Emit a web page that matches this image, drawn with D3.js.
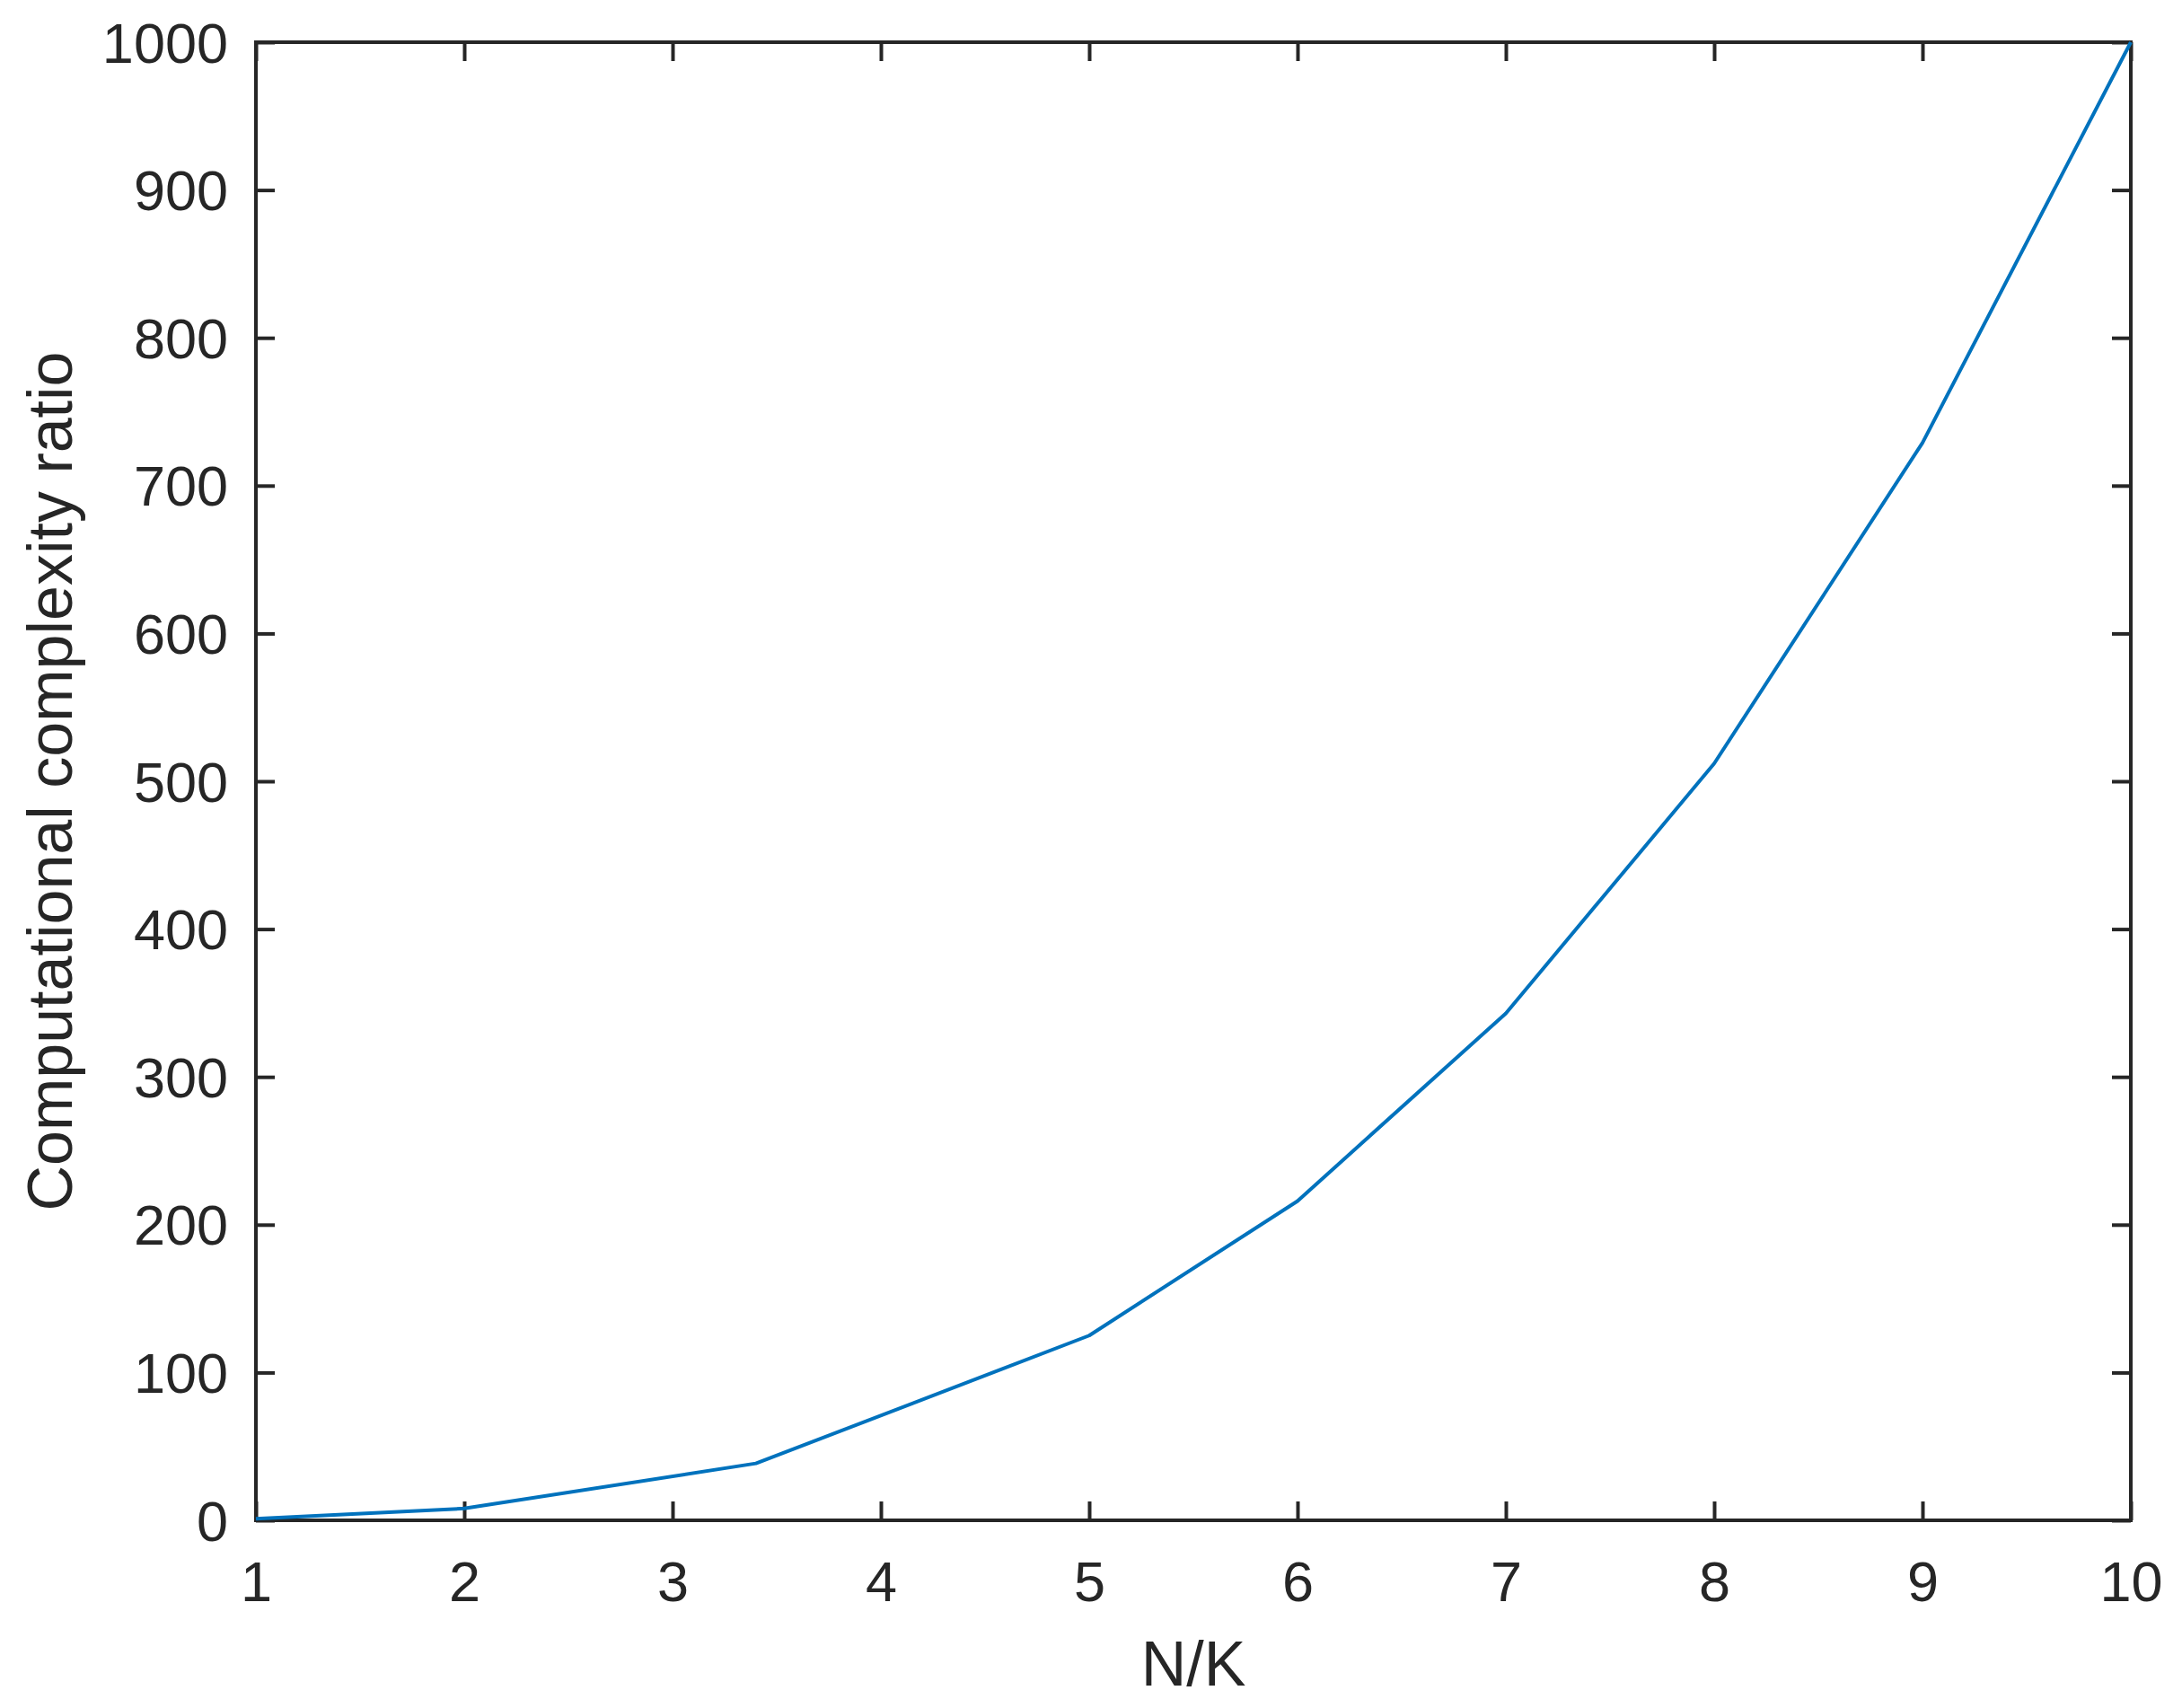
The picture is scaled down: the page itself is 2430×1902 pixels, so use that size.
<!DOCTYPE html>
<html>
<head>
<meta charset="utf-8">
<script src="https://cdn.jsdelivr.net/npm/d3@7"></script>
<style>
  html, body { margin: 0; padding: 0; background: #fff; }
  svg { display: block; font-family: "Liberation Sans", Arial, Helvetica, sans-serif; }
</style>
</head>
<body>
<svg id="chart" width="2430" height="1902"></svg>
<script>
// values (ratio grows like (N/K)^3)
const ratioX = [1, 2, 3.4, 5, 6, 7, 8, 9, 10];
const ratioY = [1, 8, 38.5, 125, 216, 343, 512, 729, 1000];
const xTicks = [1, 2, 3, 4, 5, 6, 7, 8, 9, 10];
const yTicks = [0, 100, 200, 300, 400, 500, 600, 700, 800, 900, 1000];

const ink = '#262626';
const margin = { left: 285, right: 57, top: 47, bottom: 209 };
const width = 2430, height = 1902;

const svg = d3.select('#chart');

const x = d3.scaleLinear().domain([1, 10]).range([margin.left, width - margin.right]);
const y = d3.scaleLinear().domain([0, 1000]).range([height - margin.bottom, margin.top]);

const tickLen = 21;
const fontTick = 63;
const fmt = d3.format('d');

// bottom axis with labels, top axis as mirror
const xAxis = d3.axisBottom(x).tickValues(xTicks).tickFormat(fmt).tickSizeInner(-tickLen).tickSizeOuter(0);
const gx = svg.append('g').attr('transform', `translate(0,${y(0)})`).call(xAxis);
svg.append('g').attr('transform', `translate(0,${y(1000)})`)
    .call(d3.axisTop(x).tickValues(xTicks).tickSizeInner(-tickLen).tickSizeOuter(0).tickFormat(''));

const yAxis = d3.axisLeft(y).tickValues(yTicks).tickFormat(fmt).tickSizeInner(-tickLen).tickSizeOuter(0).tickPadding(31);
const gy = svg.append('g').attr('transform', `translate(${x(1)},0)`).call(yAxis);
svg.append('g').attr('transform', `translate(${x(10)},0)`)
    .call(d3.axisRight(y).tickValues(yTicks).tickSizeInner(-tickLen).tickSizeOuter(0).tickFormat(''));

svg.selectAll('.domain').remove();
svg.selectAll('.tick line').attr('stroke', ink).attr('stroke-width', 4);
svg.selectAll('.tick text').attr('fill', ink).attr('font-size', fontTick)
    .attr('font-family', '"Liberation Sans", Arial, sans-serif');
gx.selectAll('.tick text').attr('dy', 0).attr('y', 90);
gy.selectAll('.tick text').attr('dy', '0.35em');

// box
svg.append('rect')
    .attr('x', x(1)).attr('y', y(1000))
    .attr('width', x(10) - x(1)).attr('height', y(0) - y(1000))
    .attr('fill', 'none').attr('stroke', ink).attr('stroke-width', 4);

// data line
const line = d3.line().x((d, i) => x(ratioX[i])).y((d) => y(d));
svg.append('path')
    .datum(ratioY)
    .attr('d', line)
    .attr('fill', 'none')
    .attr('stroke', '#0072BD')
    .attr('stroke-width', 4)
    .attr('stroke-linejoin', 'round');

// axis labels
svg.append('text')
    .attr('x', (x(1) + x(10)) / 2).attr('y', 1877)
    .attr('text-anchor', 'middle')
    .attr('font-size', 70).attr('fill', ink)
    .text('N/K');

svg.append('text')
    .attr('transform', `translate(80,${(y(0) + y(1000)) / 2}) rotate(-90)`)
    .attr('text-anchor', 'middle')
    .attr('font-size', 70).attr('fill', ink)
    .text('Computational complexity ratio');
</script>
</body>
</html>
